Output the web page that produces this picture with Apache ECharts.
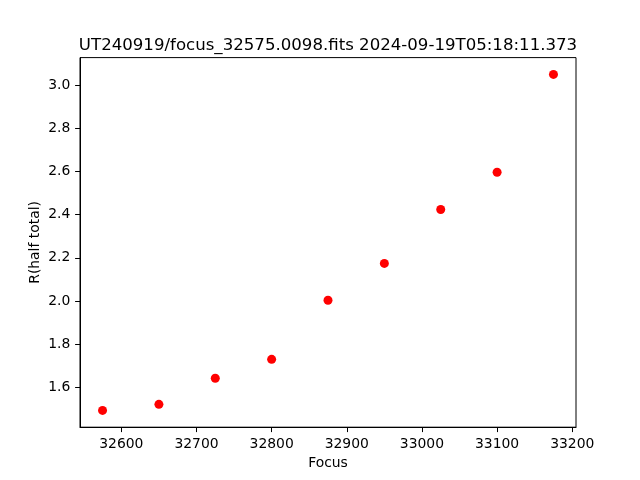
<!DOCTYPE html>
<html>
<head>
<meta charset="utf-8">
<script src="https://cdn.jsdelivr.net/npm/echarts@6/dist/echarts.min.js"></script>
<style>html,body{margin:0;padding:0;background:#fff}#c{width:640px;height:480px}</style>
</head>
<body>
<div id="c"></div>
<script>
const titleText = 'UT240919/focus_32575.0098.fits 2024-09-19T05:18:11.373';
const focus = [32575, 32650, 32725, 32800, 32875, 32950, 33025, 33100, 33175];
const rHalf = [1.492, 1.520, 1.641, 1.729, 2.003, 2.174, 2.424, 2.597, 3.051];
const xTicks = [32600, 32700, 32800, 32900, 33000, 33100, 33200];
const yTicks = [1.6, 1.8, 2.0, 2.2, 2.4, 2.6, 2.8, 3.0];

const xPad = (Math.max(...focus) - Math.min(...focus)) * 0.05;
const yPad = (Math.max(...rHalf) - Math.min(...rHalf)) * 0.05;
const font = 'DejaVu Sans';

const chart = echarts.init(document.getElementById('c'), null, {renderer: 'canvas'});
chart.setOption({
  animation: false,
  backgroundColor: '#ffffff',
  title: {
    text: titleText,
    left: 323, top: 32, textAlign: 'center',
    textStyle: {fontFamily: font, fontSize: 16.6, fontWeight: 'normal', color: '#000'}
  },
  grid: {left: 80, right: 64, top: 57.6, bottom: 52.8, show: true, borderColor: '#000', borderWidth: 1, backgroundColor: 'transparent'},
  xAxis: {
    type: 'value',
    min: Math.min(...focus) - xPad, max: Math.max(...focus) + xPad,
    name: 'Focus', nameLocation: 'middle', nameGap: 29,
    nameTextStyle: {fontFamily: font, fontSize: 13.9, color: '#000'},
    axisLine: {show: true, onZero: false, lineStyle: {color: '#000', width: 1}},
    axisTick: {show: true, length: 4.9, lineStyle: {color: '#000', width: 1}, customValues: xTicks},
    axisLabel: {fontFamily: font, fontSize: 13.9, color: '#000', margin: 9.7, customValues: xTicks, formatter: v => String(Math.round(v))},
    splitLine: {show: false}
  },
  yAxis: {
    type: 'value',
    min: Math.min(...rHalf) - yPad, max: Math.max(...rHalf) + yPad,
    name: 'R(half total)', nameLocation: 'middle', nameGap: 38, nameRotate: 90,
    nameMoveOverlap: false,
    nameTextStyle: {fontFamily: font, fontSize: 13.9, color: '#000'},
    axisLine: {show: true, onZero: false, lineStyle: {color: '#000', width: 1}},
    axisTick: {show: true, length: 4.9, lineStyle: {color: '#000', width: 1}, customValues: yTicks},
    axisLabel: {fontFamily: font, fontSize: 13.9, color: '#000', margin: 9.7, customValues: yTicks, formatter: v => v.toFixed(1)},
    splitLine: {show: false}
  },
  series: [{
    type: 'scatter',
    data: focus.map((f, i) => [f, rHalf[i]]),
    symbol: 'circle', symbolSize: 9,
    itemStyle: {color: '#ff0000', opacity: 1}
  }]
});
</script>
</body>
</html>
